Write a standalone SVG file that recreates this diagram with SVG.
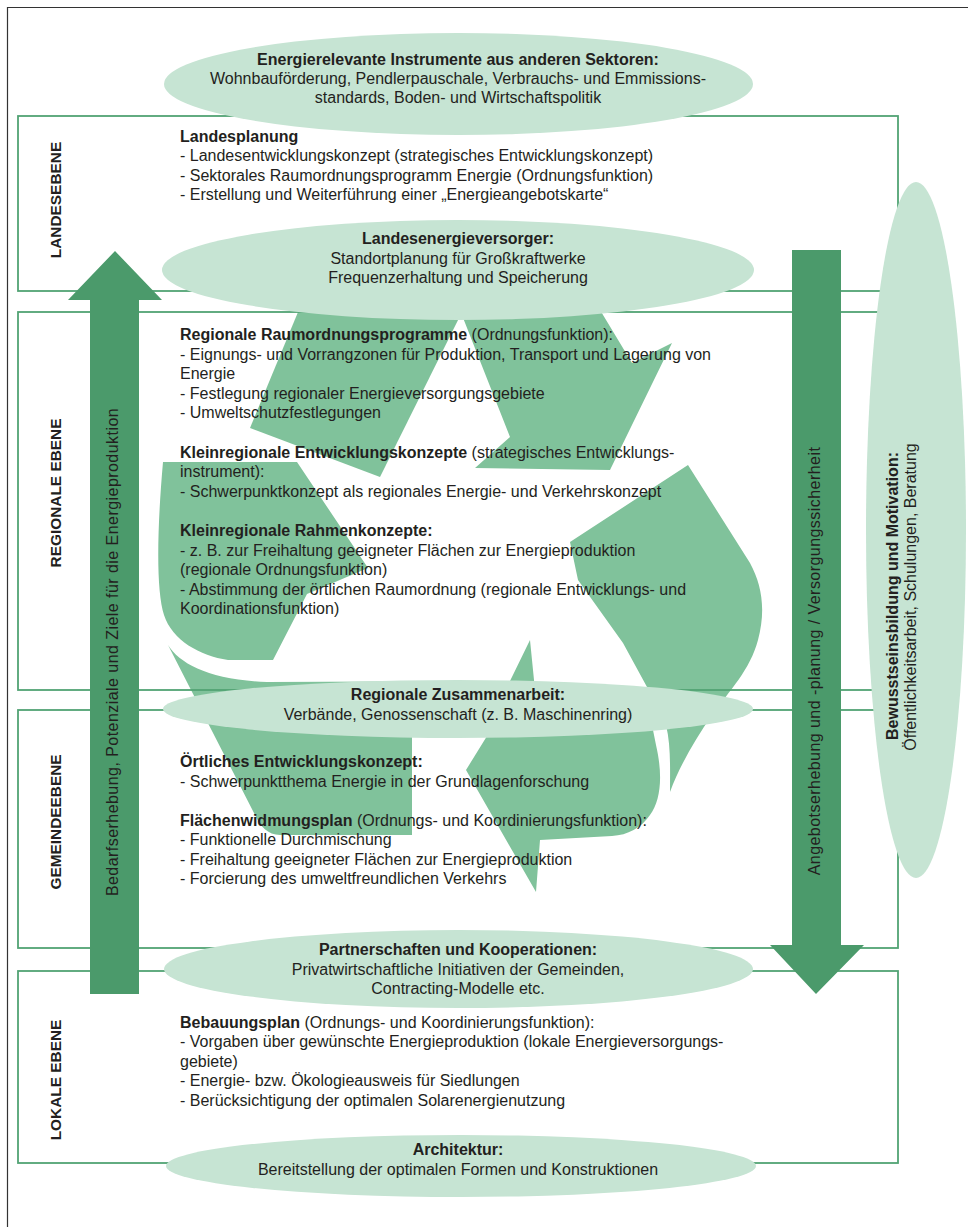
<svg xmlns="http://www.w3.org/2000/svg" width="968" height="1227" viewBox="0 0 968 1227">
<style>
.t{font-family:"Liberation Sans",Arial,sans-serif;font-size:16px;fill:#231f20}
.b{font-weight:bold}
.c{text-anchor:middle}
.lvl{font-family:"Liberation Sans",Arial,sans-serif;font-weight:bold;font-size:15.4px;fill:#231f20;text-anchor:middle}
.box{fill:none;stroke:#52a374;stroke-width:1.8}
.ell{fill:#c6e4d3}
.rec{fill:#80c29b}
.arr{fill:#4b9a6b}
.vt{font-family:"Liberation Sans",Arial,sans-serif;font-size:16px;fill:#231f20;text-anchor:middle;letter-spacing:0.45px}
</style>
<rect width="968" height="1227" fill="#ffffff"/>
<path d="M7.5,1227 V7.5 H968" fill="none" stroke="#333333" stroke-width="1.2"/>

<g id="recycle-symbol">
<polygon class="rec" points="303,300 468,300 380,477 250,428"/>
<polygon class="rec" points="456,300 594,300 632,363 672,343 610,470 475,468 510,437"/>
<path class="rec" d="M163,462 L297,462 L368,568 L307,594 L273,660 L228,660 C200,656 172,640 164,615 C156,590 157,530 163,462 Z"/>
<path class="rec" d="M168,645 C180,664 210,680 267,682 L510,681 L530,640 L535,690 L412,700 L412,835 L280,835 C268,835 260,826 255,815 Z"/>
<path class="rec" d="M500,715 L650,715 L656,745 C663,775 661,800 650,815 C641,828 628,835 612,836 L540,840 L536,892 L466,770 Z"/>
<path class="rec" d="M688,465 L750,563 C762,585 766,610 758,640 C750,670 730,690 712,715 C695,740 680,765 670,792 C670,770 671,745 666,725 L647,687 L623,643 L578,580 L570,542 Z"/>
</g>

<g id="level-landesebene">
<rect class="box" x="18" y="116" width="880" height="175"/>
<text class="lvl" transform="translate(61,200) rotate(-90)">LANDESEBENE</text>
<text class="t" x="180" y="141.7"><tspan class="b">Landesplanung</tspan></text>
<text class="t" x="180" y="161.2">- Landesentwicklungskonzept (strategisches Entwicklungskonzept)</text>
<text class="t" x="180" y="180.7">- Sektorales Raumordnungsprogramm Energie (Ordnungsfunktion)</text>
<text class="t" x="180" y="200.2">- Erstellung und Weiterführung einer „Energieangebotskarte“</text>
</g>

<g id="level-regionale-ebene">
<rect class="box" x="18" y="312" width="880" height="378"/>
<text class="lvl" transform="translate(61,493) rotate(-90)">REGIONALE EBENE</text>
<text class="t" x="180" y="340"><tspan class="b">Regionale Raumordnungsprogramme</tspan> (Ordnungsfunktion):</text>
<text class="t" x="180" y="359.6">- Eignungs- und Vorrangzonen für Produktion, Transport und Lagerung von</text>
<text class="t" x="180" y="379.2">Energie</text>
<text class="t" x="180" y="398.8">- Festlegung regionaler Energieversorgungsgebiete</text>
<text class="t" x="180" y="418.4">- Umweltschutzfestlegungen</text>
<text class="t" x="180" y="457.6"><tspan class="b">Kleinregionale Entwicklungskonzepte</tspan> (strategisches Entwicklungs-</text>
<text class="t" x="180" y="477.2">instrument):</text>
<text class="t" x="180" y="496.8">- Schwerpunktkonzept als regionales Energie- und Verkehrskonzept</text>
<text class="t" x="180" y="536"><tspan class="b">Kleinregionale Rahmenkonzepte:</tspan></text>
<text class="t" x="180" y="555.6">- z. B. zur Freihaltung geeigneter Flächen zur Energieproduktion</text>
<text class="t" x="180" y="575.2">(regionale Ordnungsfunktion)</text>
<text class="t" x="180" y="594.8">- Abstimmung der örtlichen Raumordnung (regionale Entwicklungs- und</text>
<text class="t" x="180" y="614.4">Koordinationsfunktion)</text>
</g>

<g id="level-gemeindeebene">
<rect class="box" x="18" y="710" width="880" height="238"/>
<text class="lvl" transform="translate(61,822) rotate(-90)">GEMEINDEEBENE</text>
<text class="t" x="180" y="767"><tspan class="b">Örtliches Entwicklungskonzept:</tspan></text>
<text class="t" x="180" y="786.5">- Schwerpunktthema Energie in der Grundlagenforschung</text>
<text class="t" x="180" y="825.5"><tspan class="b">Flächenwidmungsplan</tspan> (Ordnungs- und Koordinierungsfunktion):</text>
<text class="t" x="180" y="845">- Funktionelle Durchmischung</text>
<text class="t" x="180" y="864.5">- Freihaltung geeigneter Flächen zur Energieproduktion</text>
<text class="t" x="180" y="884">- Forcierung des umweltfreundlichen Verkehrs</text>
</g>

<g id="level-lokale-ebene">
<rect class="box" x="18" y="971" width="880" height="192"/>
<text class="lvl" transform="translate(61,1080) rotate(-90)">LOKALE EBENE</text>
<text class="t" x="180" y="1027.5"><tspan class="b">Bebauungsplan</tspan> (Ordnungs- und Koordinierungsfunktion):</text>
<text class="t" x="180" y="1047">- Vorgaben über gewünschte Energieproduktion (lokale Energieversorgungs-</text>
<text class="t" x="180" y="1066.5">gebiete)</text>
<text class="t" x="180" y="1086">- Energie- bzw. Ökologieausweis für Siedlungen</text>
<text class="t" x="180" y="1105.5">- Berücksichtigung der optimalen Solarenergienutzung</text>
</g>

<g id="node-instrumente">
<ellipse class="ell" cx="458.5" cy="84" rx="294.5" ry="51"/>
<text class="t c b" x="458" y="64.5">Energierelevante Instrumente aus anderen Sektoren:</text>
<text class="t c" x="458" y="83.7">Wohnbauförderung, Pendlerpauschale, Verbrauchs- und Emmissions-</text>
<text class="t c" x="458" y="102.9">standards, Boden- und Wirtschaftspolitik</text>
</g>

<g id="node-landesenergieversorger">
<ellipse class="ell" cx="458" cy="270" rx="296" ry="50"/>
<text class="t c b" x="458" y="244.3">Landesenergieversorger:</text>
<text class="t c" x="458" y="263.6">Standortplanung für Großkraftwerke</text>
<text class="t c" x="458" y="282.9">Frequenzerhaltung und Speicherung</text>
</g>

<g id="node-regionale-zusammenarbeit">
<ellipse class="ell" cx="458" cy="709" rx="295" ry="29"/>
<text class="t c b" x="458" y="700">Regionale Zusammenarbeit:</text>
<text class="t c" x="458" y="719.5">Verbände, Genossenschaft (z. B. Maschinenring)</text>
</g>

<g id="node-partnerschaften">
<ellipse class="ell" cx="458.5" cy="969" rx="294.5" ry="39"/>
<text class="t c b" x="458" y="955">Partnerschaften und Kooperationen:</text>
<text class="t c" x="458" y="974.5">Privatwirtschaftliche Initiativen der Gemeinden,</text>
<text class="t c" x="458" y="994">Contracting-Modelle etc.</text>
</g>

<g id="node-architektur">
<ellipse class="ell" cx="461" cy="1166" rx="295" ry="31"/>
<text class="t c b" x="458" y="1155">Architektur:</text>
<text class="t c" x="458" y="1174.5">Bereitstellung der optimalen Formen und Konstruktionen</text>
</g>

<g id="node-bewusstseinsbildung">
<ellipse class="ell" cx="916" cy="530" rx="50" ry="348"/>
<text class="t c b" transform="translate(898,596) rotate(-90)">Bewusstseinsbildung und Motivation:</text>
<text class="t c" transform="translate(916,597) rotate(-90)">Öffentlichkeitsarbeit, Schulungen, Beratung</text>
</g>

<g id="connectors">
<g id="arrow-bedarf">
<polygon class="arr" points="90,994 90,300 68,300 115,251 162,300 139,300 139,994"/>
<text class="vt" transform="translate(118,652) rotate(-90)">Bedarfserhebung, Potenziale und Ziele für die Energieproduktion</text>
</g>
<g id="arrow-angebot">
<polygon class="arr" points="792,250 841,250 841,945 864,945 816,994 770,945 792,945"/>
<text class="vt" transform="translate(820,661) rotate(-90)">Angebotserhebung und -planung / Versorgungssicherheit</text>
</g>
</g>
</svg>
